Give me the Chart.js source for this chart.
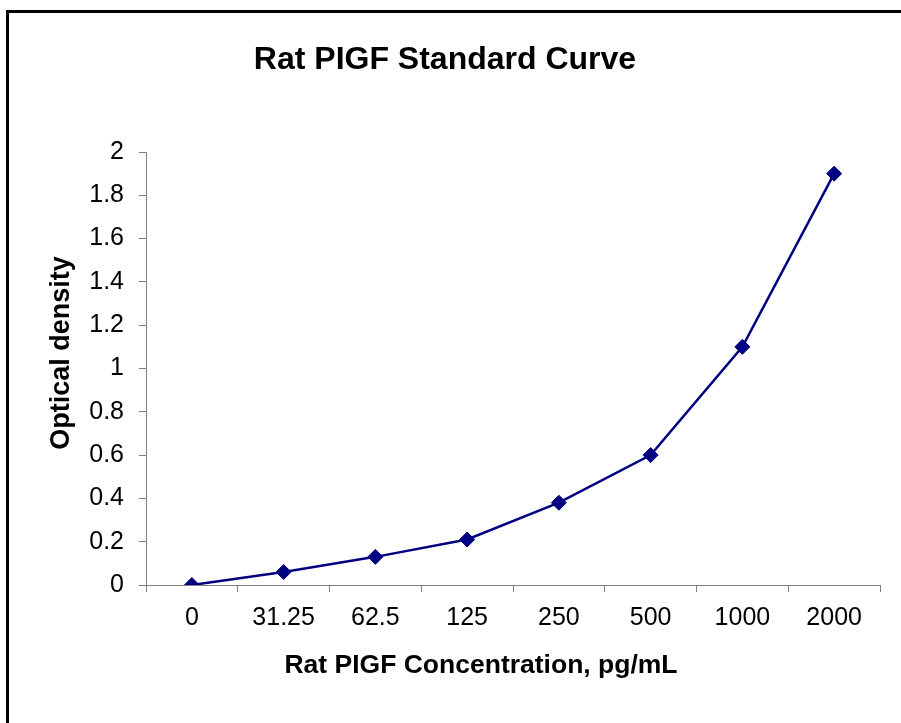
<!DOCTYPE html>
<html>
<head>
<meta charset="utf-8">
<script src="https://cdn.jsdelivr.net/npm/chart.js@4"></script>
<style>
  html, body { margin: 0; padding: 0; background: #fff; }
  canvas { display: block; }
</style>
</head>
<body>
<canvas id="c" width="901" height="723"></canvas>
<script>
const categories = ['0', '31.25', '62.5', '125', '250', '500', '1000', '2000'];
const opticalDensity = [0, 0.06, 0.13, 0.21, 0.38, 0.60, 1.10, 1.90];
const yTickValues = [0, 0.2, 0.4, 0.6, 0.8, 1, 1.2, 1.4, 1.6, 1.8, 2];
const chartTitle = 'Rat PIGF Standard Curve';
const xTitle = 'Rat PIGF Concentration, pg/mL';
const yTitle = 'Optical density';

const FONT = "'Liberation Sans', Arial, sans-serif";

const framePlugin = {
  id: 'frame',
  beforeDraw(chart) {
    const ctx = chart.ctx;
    ctx.save();
    ctx.fillStyle = '#ffffff';
    ctx.fillRect(0, 0, chart.width, chart.height);
    ctx.fillStyle = '#000000';
    ctx.fillRect(6, 10, chart.width - 6, 3);
    ctx.fillRect(6, 10, 3, chart.height - 10);
    ctx.restore();
  },
  afterDraw(chart) {
    const ctx = chart.ctx;
    ctx.save();
    ctx.fillStyle = '#000000';
    ctx.textAlign = 'center';
    ctx.textBaseline = 'middle';
    ctx.font = 'bold 32px ' + FONT;
    ctx.fillText(chartTitle, 445, 60);
    ctx.font = 'bold 26.5px ' + FONT;
    ctx.fillText(xTitle, 481, 666);
    ctx.translate(62, 353);
    ctx.rotate(-Math.PI / 2);
    ctx.font = 'bold 27px ' + FONT;
    ctx.fillText(yTitle, 0, 0);
    ctx.restore();
  }
};

new Chart(document.getElementById('c'), {
  type: 'line',
  data: {
    labels: categories,
    datasets: [{
      data: opticalDensity,
      borderColor: '#000080',
      backgroundColor: '#000080',
      borderWidth: 2.5,
      pointStyle: 'rectRot',
      pointRadius: 7.5,
      pointBackgroundColor: '#000080',
      pointBorderColor: '#000080',
      pointBorderWidth: 1,
      tension: 0,
      fill: false
    }]
  },
  options: {
    responsive: false,
    animation: false,
    layout: { padding: { left: 0, top: 152, right: 21, bottom: 0 } },
    plugins: {
      legend: { display: false },
      tooltip: { enabled: false },
      title: { display: false }
    },
    scales: {
      x: {
        type: 'category',
        offset: true,
        grid: {
          display: true,
          offset: true,
          drawOnChartArea: false,
          drawTicks: true,
          tickLength: 7,
          color: '#808080',
          lineWidth: 1
        },
        border: { display: true, color: '#808080', width: 1 },
        ticks: {
          color: '#000000',
          font: { family: FONT, size: 25 },
          padding: 11,
          maxRotation: 0,
          autoSkip: false
        },
        afterFit(scale) { scale.height = 138; }
      },
      y: {
        min: 0,
        max: 2,
        afterBuildTicks(scale) {
          scale.ticks = yTickValues.map(v => ({ value: v }));
        },
        grid: {
          display: true,
          drawOnChartArea: false,
          drawTicks: true,
          tickLength: 7,
          color: '#808080',
          lineWidth: 1
        },
        border: { display: true, color: '#808080', width: 1 },
        ticks: {
          color: '#000000',
          font: { family: FONT, size: 25 },
          padding: 15,
          callback: v => String(Number(Number(v).toFixed(1)))
        },
        afterFit(scale) { scale.width = 146; }
      }
    }
  },
  plugins: [framePlugin]
});
</script>
</body>
</html>
